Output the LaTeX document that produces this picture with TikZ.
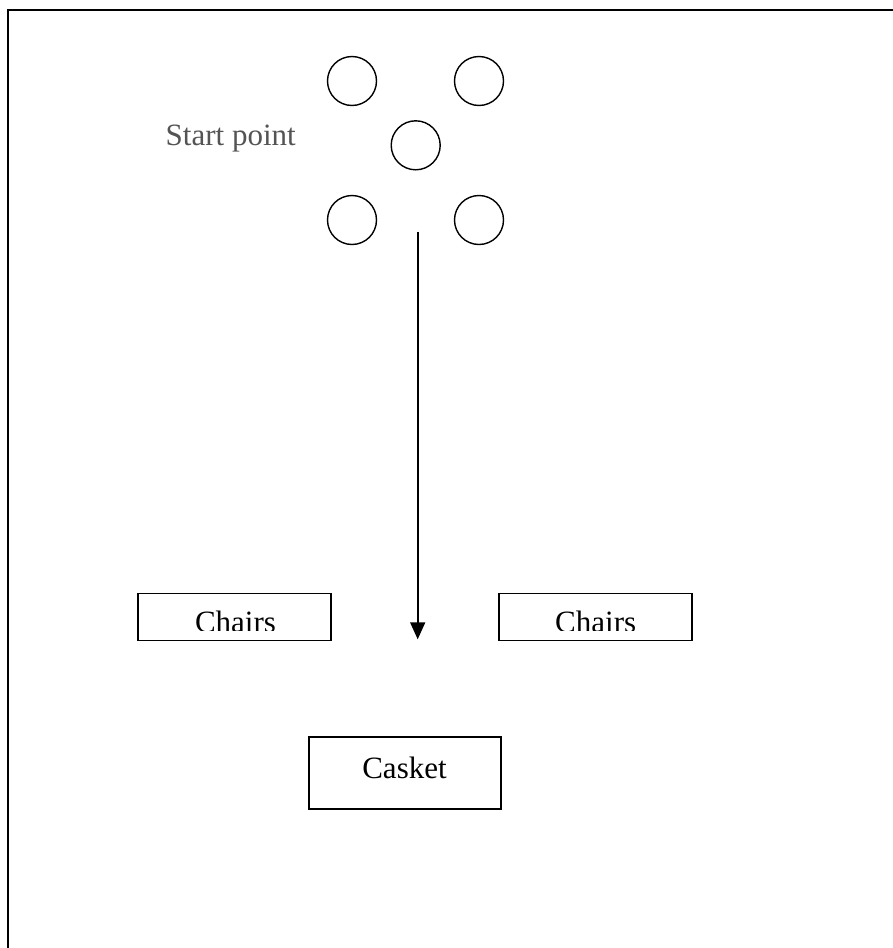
\documentclass[tikz,border=0pt]{standalone}
\usepackage{fontspec}
\setmainfont{Liberation Serif}
\usetikzlibrary{arrows.meta}
\begin{document}
\begin{tikzpicture}[x=1pt,y=-1pt,
  seat/.style={draw,circle,line width=1.4pt,minimum size=49pt,inner sep=0pt},
  boxshape/.style={draw,rectangle,line width=1.8pt,inner sep=0pt},
  lbl/.style={font=\fontsize{31}{36}\selectfont,inner sep=0pt,anchor=base},
  path/.style={line width=1.6pt,-{Triangle[width=15pt,length=17pt]}}]
\useasboundingbox (0,0) rectangle (893,948);
\fill[white] (0,0) rectangle (893,948);
% outer frame (top and left edges visible)
\coordinate (frameTR) at (893,9.5);
\coordinate (frameTL) at (7.5,9.5);
\coordinate (frameBL) at (7.5,948);
\draw[line width=2pt] (frameTR) -- (frameTL) -- (frameBL);
% circles
\node[seat] (c1) at (352,81) {};
\node[seat] (c2) at (479,81) {};
\node[seat] (c3) at (415.7,145.3) {};
\node[seat] (c4) at (352,220) {};
\node[seat] (c5) at (479,220) {};
\node[lbl,anchor=base west,text=black!67] (start) at (165.5,145.7) {Start point};
% arrow
\coordinate (astart) at (417.7,231.7);
\coordinate (aend) at (417.7,639.3);
\draw[path] (astart) -- (aend);
% chairs
\node[boxshape,minimum width=193pt,minimum height=47pt] (chairsL) at (234.5,617) {};
\node[boxshape,minimum width=193pt,minimum height=47pt] (chairsR) at (595.5,617) {};
\begin{scope}
\clip (100,590) rectangle (750,630.5);
\node[lbl] (chairsLt) at (235.5,632) {Chairs};
\node[lbl] (chairsRt) at (595.7,632) {Chairs};
\end{scope}
% casket
\node[boxshape,minimum width=192pt,minimum height=72pt] (casket) at (405,773) {};
\node[lbl] (caskett) at (404.5,778.5) {Casket};
\end{tikzpicture}
\end{document}
